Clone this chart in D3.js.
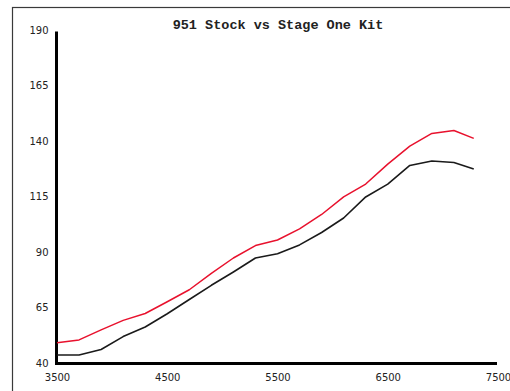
<!DOCTYPE html>
<html>
<head>
<meta charset="utf-8">
<script src="https://cdn.jsdelivr.net/npm/d3@7"></script>
<style>
  html, body { margin: 0; padding: 0; background: #fff; }
  svg { display: block; }
</style>
</head>
<body>
<svg id="chart" width="510" height="391"></svg>
<script>
const title = "951 Stock vs Stage One Kit";
const rpm = [3500, 3700, 3900, 4100, 4300, 4500, 4700, 4900, 5100, 5300,
             5500, 5700, 5900, 6100, 6300, 6500, 6700, 6900, 7100, 7280];
const stageOne = [49.1, 50.4, 54.9, 59.2, 62.3, 67.6, 73.0, 80.4, 87.3, 92.9,
                  95.4, 100.4, 106.9, 114.8, 120.6, 129.6, 137.7, 143.4, 144.7, 141.2];
const stock = [43.6, 43.6, 46.1, 51.9, 56.2, 62.2, 68.6, 75.0, 81.0, 87.3,
               89.2, 93.2, 98.8, 105.3, 114.8, 120.6, 129.0, 131.0, 130.3, 127.4];
const xTicks = [3500, 4500, 5500, 6500, 7500];
const yTicks = [40, 65, 90, 115, 140, 165, 190];

const svg = d3.select("#chart");

// frame
svg.append("rect")
  .attr("x", 12.5).attr("y", 7.5)
  .attr("width", 520).attr("height", 420)
  .attr("fill", "none").attr("stroke", "#3a3a3a").attr("stroke-width", 1.2);

const x = d3.scaleLinear().domain([3500, 7500]).range([57, 498]);
const y = d3.scaleLinear().domain([40, 190]).range([363, 30]);

// title
svg.append("text")
  .attr("x", 278).attr("y", 29)
  .attr("text-anchor", "middle")
  .attr("font-family", "'Liberation Mono', 'Courier New', monospace")
  .attr("font-weight", "bold")
  .attr("font-size", "13.5px")
  .attr("fill", "#222")
  .text(title);

// y axis
const gy = svg.append("g")
  .attr("transform", "translate(56.5,0)")
  .call(d3.axisLeft(y).tickValues(yTicks).tickSize(0).tickPadding(8).tickFormat(d3.format("d")));
gy.select(".domain").attr("stroke", "#000").attr("stroke-width", 3)
  .attr("d", `M0,${y(190) + 1.5}V${y(40) + 1.5}`);
gy.selectAll("text")
  .attr("font-family", "'DejaVu Sans', Verdana, sans-serif")
  .attr("font-size", "10px")
  .attr("fill", "#222");

// x axis
const gx = svg.append("g")
  .attr("transform", "translate(0,363.5)")
  .call(d3.axisBottom(x).tickValues(xTicks).tickSize(0).tickPadding(10).tickFormat(d3.format("d")));
gx.select(".domain").attr("stroke", "#000").attr("stroke-width", 3)
  .attr("d", `M55,0H${x(7500) - 1}`);
gx.selectAll("text")
  .attr("font-family", "'DejaVu Sans', Verdana, sans-serif")
  .attr("font-size", "10px")
  .attr("fill", "#222");

const line = vals => d3.line()
  .x((d, i) => x(rpm[i]))
  .y(d => y(d))(vals);

svg.append("path")
  .attr("d", line(stock))
  .attr("fill", "none")
  .attr("stroke", "#1a1a1a")
  .attr("stroke-width", 1.6)
  .attr("stroke-linejoin", "round");

svg.append("path")
  .attr("d", line(stageOne))
  .attr("fill", "none")
  .attr("stroke", "#e8112d")
  .attr("stroke-width", 1.5)
  .attr("stroke-linejoin", "round");
</script>
</body>
</html>
